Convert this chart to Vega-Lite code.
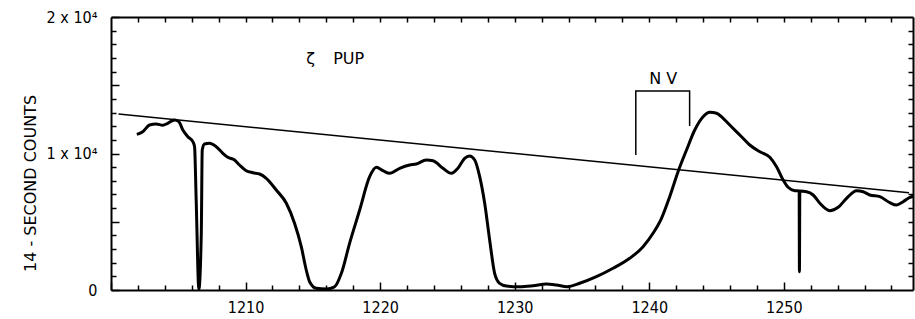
{
  "$schema": "https://vega.github.io/schema/vega-lite/v6.json",
  "width": 802,
  "height": 273,
  "autosize": {"type": "none"},
  "padding": {"left": 111, "top": 17, "right": 2, "bottom": 29},
  "background": "white",
  "config": {
    "view": {"stroke": null},
    "axis": {
      "grid": false,
      "domainColor": "black",
      "domainWidth": 2,
      "tickColor": "black",
      "tickWidth": 1.5,
      "labelColor": "black",
      "titleColor": "black",
      "labelFont": "Liberation Sans Narrow, DejaVu Sans Condensed, sans-serif",
      "titleFont": "DejaVu Sans, sans-serif"
    }
  },
  "datasets": {
    "spectrum": [
      {"wl": 1201.92, "counts": 11406}, {"wl": 1202.36, "counts": 11597}, {"wl": 1202.86, "counts": 12088},
      {"wl": 1203.36, "counts": 12161}, {"wl": 1203.85, "counts": 12066}, {"wl": 1204.22, "counts": 12212},
      {"wl": 1204.72, "counts": 12454}, {"wl": 1205.04, "counts": 12330}, {"wl": 1205.34, "counts": 11722},
      {"wl": 1205.71, "counts": 11231}, {"wl": 1206.08, "counts": 10864}, {"wl": 1206.21, "counts": 10498},
      {"wl": 1206.33, "counts": 6593}, {"wl": 1206.53, "counts": 50}, {"wl": 1206.71, "counts": 4176},
      {"wl": 1206.78, "counts": 10256}, {"wl": 1206.95, "counts": 10696}, {"wl": 1207.32, "counts": 10747},
      {"wl": 1207.82, "counts": 10498}, {"wl": 1208.31, "counts": 10015}, {"wl": 1208.68, "counts": 9722},
      {"wl": 1209.18, "counts": 9524}, {"wl": 1209.55, "counts": 9158}, {"wl": 1210.05, "counts": 8740},
      {"wl": 1210.54, "counts": 8593}, {"wl": 1211.04, "counts": 8498}, {"wl": 1211.54, "counts": 8183},
      {"wl": 1212.28, "counts": 7326}, {"wl": 1213.03, "counts": 6352}, {"wl": 1213.64, "counts": 4886},
      {"wl": 1214.14, "counts": 3172}, {"wl": 1214.51, "counts": 1465}, {"wl": 1214.76, "counts": 608},
      {"wl": 1215.26, "counts": 125}, {"wl": 1216.0, "counts": 70}, {"wl": 1216.62, "counts": 242},
      {"wl": 1217.12, "counts": 1223}, {"wl": 1217.73, "counts": 3421}, {"wl": 1218.48, "counts": 5861},
      {"wl": 1219.22, "counts": 8300}, {"wl": 1219.72, "counts": 8989}, {"wl": 1220.21, "counts": 8740},
      {"wl": 1220.71, "counts": 8549}, {"wl": 1221.45, "counts": 8916}, {"wl": 1222.19, "counts": 9158},
      {"wl": 1222.69, "counts": 9231}, {"wl": 1223.43, "counts": 9524}, {"wl": 1223.93, "counts": 9473},
      {"wl": 1224.67, "counts": 8916}, {"wl": 1225.29, "counts": 8549}, {"wl": 1225.78, "counts": 8916},
      {"wl": 1226.28, "counts": 9648}, {"wl": 1226.65, "counts": 9817}, {"wl": 1227.03, "counts": 9524},
      {"wl": 1227.40, "counts": 8300}, {"wl": 1227.77, "counts": 6352}, {"wl": 1228.14, "counts": 3663},
      {"wl": 1228.51, "counts": 1223}, {"wl": 1228.88, "counts": 491}, {"wl": 1229.38, "counts": 293},
      {"wl": 1230.37, "counts": 242}, {"wl": 1231.36, "counts": 315}, {"wl": 1232.36, "counts": 440},
      {"wl": 1233.10, "counts": 366}, {"wl": 1233.89, "counts": 242}, {"wl": 1234.83, "counts": 491},
      {"wl": 1236.07, "counts": 974}, {"wl": 1237.31, "counts": 1590}, {"wl": 1238.55, "counts": 2322},
      {"wl": 1239.54, "counts": 3172}, {"wl": 1240.28, "counts": 4154}, {"wl": 1240.91, "counts": 5253},
      {"wl": 1241.52, "counts": 6835}, {"wl": 1242.14, "counts": 8667}, {"wl": 1242.77, "counts": 10256},
      {"wl": 1243.38, "counts": 11722}, {"wl": 1244.0, "counts": 12696}, {"wl": 1244.50, "counts": 13018},
      {"wl": 1245.0, "counts": 12945}, {"wl": 1245.49, "counts": 12579}, {"wl": 1246.11, "counts": 11963},
      {"wl": 1246.86, "counts": 11231}, {"wl": 1247.47, "counts": 10623}, {"wl": 1248.22, "counts": 10132},
      {"wl": 1248.96, "counts": 9722}, {"wl": 1249.46, "counts": 9033}, {"wl": 1249.95, "counts": 8059},
      {"wl": 1250.32, "counts": 7524}, {"wl": 1250.82, "counts": 7275}, {"wl": 1251.14, "counts": 7253},
      {"wl": 1251.16, "counts": 1341}, {"wl": 1251.19, "counts": 7253}, {"wl": 1251.69, "counts": 7201},
      {"wl": 1252.18, "counts": 6960}, {"wl": 1252.68, "counts": 6352}, {"wl": 1253.42, "counts": 5810},
      {"wl": 1254.04, "counts": 6059}, {"wl": 1254.66, "counts": 6718}, {"wl": 1255.41, "counts": 7275},
      {"wl": 1255.90, "counts": 7201}, {"wl": 1256.39, "counts": 6960}, {"wl": 1257.14, "counts": 6835},
      {"wl": 1257.88, "counts": 6396}, {"wl": 1258.38, "counts": 6227}, {"wl": 1258.87, "counts": 6469},
      {"wl": 1259.37, "counts": 6791}, {"wl": 1259.74, "counts": 6886}
    ],
    "continuum": [
      {"wl": 1200.56, "counts": 12894},
      {"wl": 1259.3, "counts": 7128}
    ],
    "bracket": [
      {"i": 1, "wl": 1239.0, "counts": 9890},
      {"i": 2, "wl": 1239.0, "counts": 14579},
      {"i": 3, "wl": 1243.0, "counts": 14579},
      {"i": 4, "wl": 1243.0, "counts": 12015}
    ],
    "labels": [
      {"wl": 1214.83, "counts": 16923, "text": "ζ", "weight": "normal"},
      {"wl": 1217.66, "counts": 16923, "text": "PUP", "weight": "normal"},
      {"wl": 1241.04, "counts": 15458, "text": "N V", "weight": "bold"}
    ]
  },
  "layer": [
    {
      "data": {"name": "spectrum"},
      "mark": {"type": "line", "color": "black", "strokeWidth": 3, "clip": true, "interpolate": "monotone"},
      "encoding": {
        "x": {
          "field": "wl", "type": "quantitative",
          "scale": {"domain": [1200, 1259.6], "nice": false, "zero": false},
          "axis": {
            "orient": "bottom", "title": null,
            "values": [1200,1202,1204,1206,1208,1210,1212,1214,1216,1218,1220,1222,1224,1226,1228,1230,1232,1234,1236,1238,1240,1242,1244,1246,1248,1250,1252,1254,1256,1258],
            "tickSize": {"condition": {"test": "datum.value % 10 === 0", "value": -8}, "value": -5},
            "labelExpr": "datum.value % 10 === 0 && datum.value > 1200 ? datum.value : ''",
            "labelFontSize": 16, "labelPadding": 17, "labelFlush": false
          }
        },
        "y": {
          "field": "counts", "type": "quantitative",
          "scale": {"domain": [0, 20000], "nice": false},
          "axis": {
            "orient": "left",
            "title": "14 - SECOND  COUNTS",
            "titleFontSize": 16, "titleFontWeight": "normal",
            "titleX": -81, "titleY": 166, "titleAngle": -90, "titleBaseline": "middle",
            "values": [0,1000,2000,3000,4000,5000,6000,7000,8000,9000,10000,11000,12000,13000,14000,15000,16000,17000,18000,19000,20000],
            "tickSize": {"condition": {"test": "datum.value % 5000 === 0", "value": -8}, "value": -5},
            "labelExpr": "datum.value === 0 ? '0' : (datum.value % 10000 === 0 ? (datum.value / 10000) + ' x 10⁴' : '')",
            "labelFontSize": 16, "labelPadding": 22
          }
        }
      }
    },
    {
      "data": {"name": "continuum"},
      "mark": {"type": "line", "color": "black", "strokeWidth": 1.5},
      "encoding": {
        "x": {
          "field": "wl", "type": "quantitative",
          "scale": {"domain": [1200, 1259.6], "nice": false, "zero": false},
          "axis": {
            "orient": "top", "title": null, "labels": false,
            "values": [1202,1204,1206,1208,1210,1212,1214,1216,1218,1220,1222,1224,1226,1228,1230,1232,1234,1236,1238,1240,1242,1244,1246,1248,1250,1252,1254,1256,1258],
            "tickSize": -5
          }
        },
        "y": {
          "field": "counts", "type": "quantitative",
          "scale": {"domain": [0, 20000], "nice": false},
          "axis": {
            "orient": "right", "title": null, "labels": false,
            "values": [1000,2000,3000,4000,5000,6000,7000,8000,9000,10000,11000,12000,13000,14000,15000,16000,17000,18000,19000],
            "tickSize": -5
          }
        }
      }
    },
    {
      "data": {"name": "bracket"},
      "mark": {"type": "line", "color": "black", "strokeWidth": 1.5},
      "encoding": {
        "x": {"field": "wl", "type": "quantitative", "scale": {"domain": [1200, 1259.6], "nice": false, "zero": false}, "axis": null},
        "y": {"field": "counts", "type": "quantitative", "scale": {"domain": [0, 20000], "nice": false}, "axis": null},
        "order": {"field": "i"}
      }
    },
    {
      "data": {"name": "labels"},
      "mark": {"type": "text", "color": "black", "fontSize": 16, "font": "DejaVu Sans, sans-serif", "align": "center", "baseline": "middle"},
      "encoding": {
        "x": {"field": "wl", "type": "quantitative", "scale": {"domain": [1200, 1259.6], "nice": false, "zero": false}, "axis": null},
        "y": {"field": "counts", "type": "quantitative", "scale": {"domain": [0, 20000], "nice": false}, "axis": null},
        "text": {"field": "text"},
        "fontWeight": {"field": "weight", "type": "nominal", "scale": null}
      }
    }
  ],
  "resolve": {"axis": {"x": "independent", "y": "independent"}}
}
